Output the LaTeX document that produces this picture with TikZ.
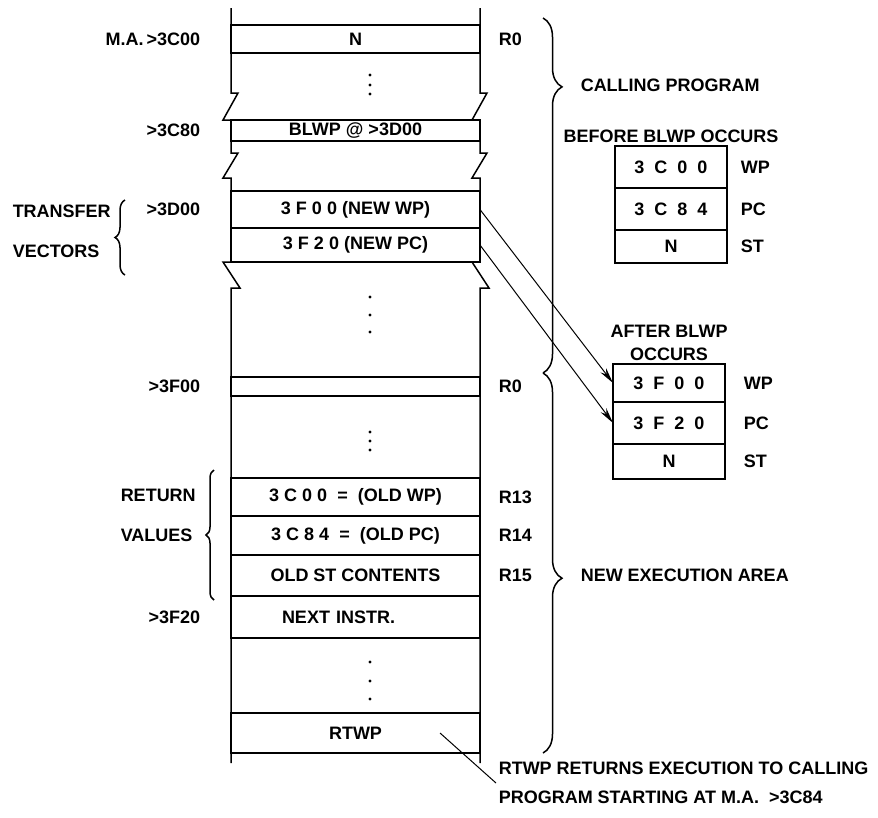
\documentclass[tikz,border=0pt]{standalone}
\usepackage{fontspec}
\setmainfont{Liberation Sans}
\usetikzlibrary{arrows.meta,positioning,decorations.pathreplacing}

\begin{document}
\begin{tikzpicture}[x=1pt, y=-1pt, line width=1.5pt, every node/.style={inner sep=2pt,font=\bfseries\fontsize{18}{23}\selectfont}, cell/.style={draw,minimum width=249pt,minimum height=#1,outer sep=0pt}, reg/.style={draw,minimum width=112pt,minimum height=#1,outer sep=0pt}, brc/.style args={#1/#2}{decorate,decoration={brace,amplitude=#1,aspect=#2}}, >={Stealth[length=16pt,width=7pt]}]
\useasboundingbox (0,0) rectangle (878,817);
\node[cell=28pt] (n) at (355.5,39) {N};
\node[cell=21pt] (blwp) at (355.5,130.5) {BLWP @ >3D00};
\node[cell=37pt] (nwp) at (355.5,209.5) {3 F 0 0 (NEW WP)};
\node[cell=34pt, below=0pt of nwp] (npc) {3 F 2 0 (NEW PC)};
\node[cell=19pt] (r0n) at (355.5,386.5) {};
\node[cell=38pt] (owp) at (355.5,497) {3 C 0 0 ~=~ (OLD WP)};
\node[cell=39pt, below=0pt of owp] (opc) {3 C 8 4 ~=~ (OLD PC)};
\node[cell=41pt, below=0pt of opc] (ost) {OLD ST CONTENTS};
\node[cell=42pt, below=0pt of ost, text width=147pt, inner xsep=51pt, align=left] (nxt) {NEXT INSTR.};
\node[cell=40pt] (rtwp) at (355.5,733) {RTWP};
\foreach \x in {231,480}
  \draw (\x,8) -- (\x,93) -- ++(7,0) -- ++(-15,27) -- ++(8,0) -- (\x,153) -- ++(7,0) -- ++(-15,25) -- ++(8,0) -- (\x,262) -- ++(-8,0) -- ++(17,26) -- ++(-9,0) -- (\x,763);
\foreach \y in {75,85,94,297,315,332,432,441,450,662,681,699}
  \fill (370,\y) circle (1.6);
\node[left=28pt of n] (a3c00) {M.A.\,>3C00};
\node[left=28pt of blwp] (a3c80) {>3C80};
\node[left=28pt of nwp] (a3d00) {>3D00};
\node[left=28pt of r0n] (a3f00) {>3F00};
\node[left=28pt of nxt] (a3f20) {>3F20};
\node[anchor=west] (tra) at (10,211) {TRANSFER};
\node[anchor=west] (vec) at (10,251) {VECTORS};
\node[anchor=west] (ret) at (118,495) {RETURN};
\node[anchor=west] (val) at (118,535) {VALUES};
\draw[brc=10pt/0.5] (125,275) -- (125,200);
\draw[brc=8pt/0.5] (214,600) -- (214,470);
\node[right=16pt of n] (r0) {R0};
\node[right=16pt of r0n] (r0b) {R0};
\node[right=16pt of owp] (r13) {R13};
\node[right=16pt of opc] (r14) {R14};
\node[right=16pt of ost] (r15) {R15};
\draw[brc=19pt/0.194] (543,18) -- (543,373);
\draw[brc=19pt/0.54] (543,373) -- (543,753);
\node[anchor=west] (cp) at (578,85) {CALLING PROGRAM};
\node[anchor=west] (nea) at (578,575) {NEW EXECUTION AREA};
\node[reg=42pt] (bwp) at (671,167) {3~~C~~0~~0};
\node[reg=42pt, below=0pt of bwp] (bpc) {3~~C~~8~~4};
\node[reg=33pt, below=0pt of bpc] (bst) {N};
\node[above=1pt of bwp] (bef) {BEFORE BLWP OCCURS};
\node[right=11pt of bwp] (wp1) {WP};
\node[right=11pt of bpc] (pc1) {PC};
\node[right=11pt of bst] (st1) {ST};
\node[reg=38pt] (awp) at (669,383) {3~~F~~0~~0};
\node[reg=42pt, below=0pt of awp] (apc) {3~~F~~2~~0};
\node[reg=35pt, below=0pt of apc] (ast) {N};
\node[above=1pt of awp, align=center] (aft) {AFTER BLWP\\OCCURS};
\node[right=16pt of awp] (wp2) {WP};
\node[right=16pt of apc] (pc2) {PC};
\node[right=16pt of ast] (st2) {ST};
\draw[->, line width=1pt] (nwp.east) -- (awp.west);
\draw[->, line width=1pt] (npc.east) -- (apc.west);
\coordinate (tip) at (440,733);
\node[anchor=west, align=left, font=\bfseries\fontsize{18}{29}\selectfont] (note) at (496,783) {RTWP RETURNS EXECUTION TO CALLING\\PROGRAM STARTING AT M.A. \ >3C84};
\draw[line width=1pt] (tip) -- (note.west);
\end{tikzpicture}
\end{document}
